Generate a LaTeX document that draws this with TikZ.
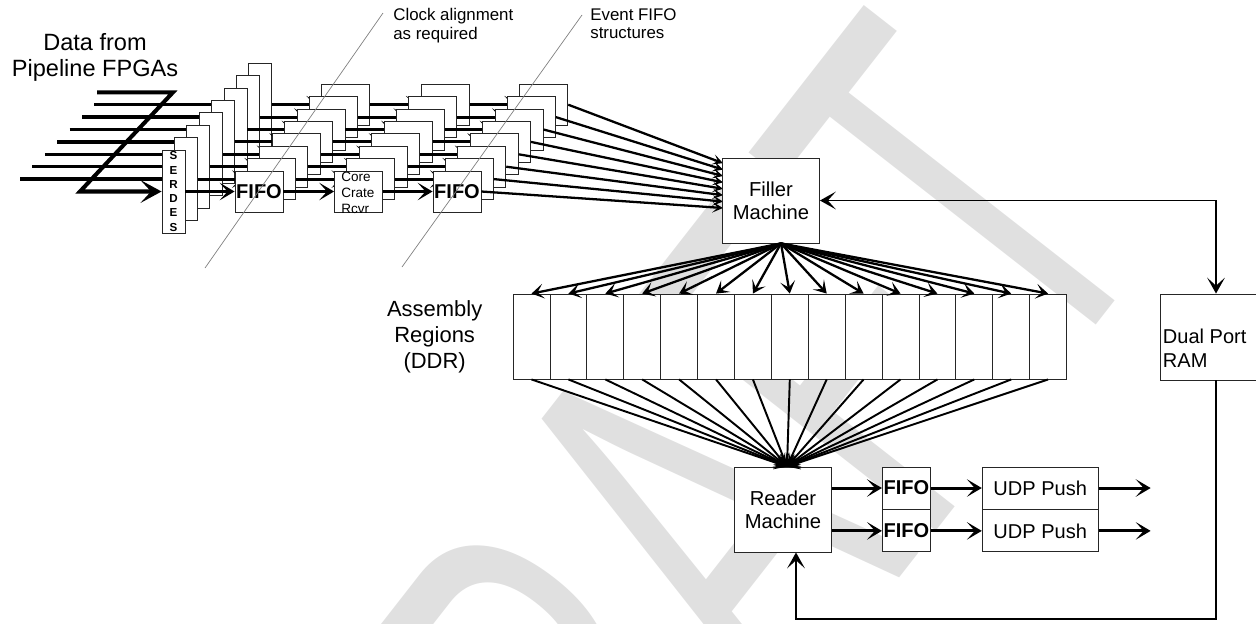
\documentclass[tikz,border=0pt]{standalone}
\usepackage{fontspec}
\setmainfont{Liberation Sans}
\usepackage{tikz}
\usetikzlibrary{positioning,arrows.meta}

\begin{document}
\begin{tikzpicture}[x=0.02cm, y=-0.02cm,
  box/.style={draw=black!85, line width=0.5pt, fill=white, inner sep=0.5pt, align=center},
  serbox/.style={box, minimum width=0.46cm, minimum height=1.66cm},
  stackbox/.style={box, minimum width=0.96cm, minimum height=0.82cm},
  asmbox/.style={box, minimum width=0.738cm, minimum height=1.70cm},
  machine/.style={box, minimum width=1.94cm, minimum height=1.70cm, font=\fontsize{11.5}{13.3}\selectfont},
  fifobox/.style={box, minimum width=0.96cm, minimum height=0.84cm, font=\bfseries\fontsize{11.4}{13}\selectfont},
  udpbox/.style={box, minimum width=2.32cm, minimum height=0.84cm, font=\fontsize{11.4}{13}\selectfont},
  lbl/.style={inner sep=0pt, align=center},
  bus/.style={line width=1.9pt},
  bigbus/.style={-{Stealth[length=12pt, width=13pt, inset=6pt]}, line width=2.3pt},
  arr/.style={-{Stealth[length=8.5pt, width=10pt, inset=4.5pt]}, line width=1.7pt},
  finarr/.style={-{Stealth[length=6pt, width=6pt, inset=3pt]}, line width=1.3pt},
  fan/.style={-{Stealth[length=7pt, width=8.5pt, inset=3.5pt]}, line width=1.3pt},
  fanin/.style={-{Stealth[length=7pt, width=8pt, inset=3.5pt]}, line width=1.1pt},
  ramlink/.style={{Stealth[length=9pt, width=10pt, inset=4.5pt]}-{Stealth[length=9pt, width=10pt, inset=4.5pt]}, line width=1.1pt},
  backline/.style={-{Stealth[length=9pt, width=10pt, inset=4.5pt]}, line width=1.1pt},
  leader/.style={draw=black!50, line width=0.4pt},
  wmark/.style={text=black!12, inner sep=0pt, font=\fontsize{314}{314}\selectfont}
]
  \useasboundingbox (0,0) rectangle (1256,623);

  \begin{scope}
    \clip (0,0) rectangle (1256,623);
    \node[wmark, anchor=base west, rotate=52, xscale=0.6] (draft) at (489,1103) {DRAFT};
  \end{scope}

  \node[lbl, font=\fontsize{13.4}{14.8}\selectfont] (datafrom) at (95,57) {Data from\\Pipeline FPGAs};

  \foreach \k in {7,6,...,0} {
    \pgfmathsetmacro{\off}{12.4*\k}
    \node[serbox] (ser\k) at (173.5+\off, 191.5-\off) {};
    \node[stackbox] (fa\k) at (259+\off, 191.5-\off) {};
    \node[stackbox] (cc\k) at (358.5+\off, 191.5-\off) {};
    \node[stackbox] (fb\k) at (457+\off, 191.5-\off) {};
    \ifnum\k>0
      \coordinate (in\k) at (7.6+\off, 191.5-\off);
      \draw[bus] (in\k) -- (ser\k.west);
    \fi
    \draw[arr] (ser\k.east) -- (fa\k.west);
    \draw[arr] (fa\k.east) -- (cc\k.west);
    \draw[arr] (cc\k.east) -- (fb\k.west);
    \coordinate (fin\k) at (723, 208-6.4*\k);
    \draw[finarr] (fb\k.east) -- (fin\k);
  }
  \node[lbl, font=\bfseries\fontsize{6.6}{8.1}\selectfont] (sertxt) at (ser0) {S\\E\\R\\D\\E\\S};
  \node[lbl, font=\bfseries\fontsize{11.4}{13}\selectfont] (fatxt) at (fa0) {FIFO};
  \node[lbl, anchor=north west, align=left, font=\fontsize{7.7}{9.1}\selectfont] (cctxt) at (341,172) {Core\\Crate\\Rcvr};
  \node[lbl, font=\bfseries\fontsize{11.4}{13}\selectfont] (fbtxt) at (fb0) {FIFO};

  \coordinate (ztop) at (97,92.3);
  \coordinate (zbend) at (173,92.3);
  \coordinate (zlow) at (80,191.5);
  \draw[bigbus] (ztop) -- (zbend) -- (zlow) -- (ser0.west);

  \node[machine] (filler) at (771,200.5) {Filler\\Machine};
  \foreach \i in {0,...,14}
    \node[asmbox] (asm\i) at (531.5+36.9*\i, 336.5) {};
  \node[lbl, left=0.6cm of asm0, font=\fontsize{12.5}{14.8}\selectfont] (asmlabel) {Assembly\\Regions\\(DDR)};
  \node[machine] (reader) at (783,509.5) {Reader\\Machine};
  \node[fifobox, anchor=north west] (fifoa) at ([xshift=1cm]reader.north east) {FIFO};
  \node[fifobox, below=0cm of fifoa] (fifob) {FIFO};
  \node[udpbox, right=1.02cm of fifoa] (udpa) {UDP Push};
  \node[udpbox, below=0cm of udpa] (udpb) {UDP Push};
  \node[box, minimum width=2.24cm, minimum height=1.72cm] (ram) at (1216,337) {};
  \node[lbl, anchor=west, align=left, font=\fontsize{11.4}{13.7}\selectfont] (ramtxt) at ([xshift=0.06cm, yshift=-0.22cm]ram.west) {Dual Port\\RAM};

  \coordinate (fout) at ([xshift=0.2cm]filler.south);
  \foreach \i in {0,...,14}
    \draw[fan] (fout) -- (asm\i.north);
  \coordinate (rin) at ([xshift=0.08cm]reader.north);
  \foreach \i in {0,...,14}
    \draw[fanin] (asm\i.south) -- (rin);

  \draw[ramlink] (filler.east) -| (ram.north);
  \coordinate (ramloop) at (796,619);
  \draw[backline] (ram.south) |- (ramloop) -- (ramloop |- reader.south);

  \draw[arr] (reader.east |- fifoa.west) -- (fifoa.west);
  \draw[arr] (reader.east |- fifob.west) -- (fifob.west);
  \draw[arr] (fifoa.east) -- (udpa.west);
  \draw[arr] (fifob.east) -- (udpb.west);
  \coordinate (outa) at ([xshift=1.04cm]udpa.east);
  \coordinate (outb) at ([xshift=1.04cm]udpb.east);
  \draw[arr] (udpa.east) -- (outa);
  \draw[arr] (udpb.east) -- (outb);

  \node[lbl, anchor=north west, align=left, font=\fontsize{9.6}{10.6}\selectfont] (clockalign) at (393,8) {Clock alignment\\as required};
  \node[lbl, anchor=north west, align=left, font=\fontsize{9.6}{10.6}\selectfont] (eventfifo) at (590,8) {Event FIFO\\structures};
  \coordinate (clktop) at (383,13);
  \coordinate (clkend) at (205,268);
  \coordinate (evttop) at (582,15);
  \coordinate (evtend) at (402,267);
  \draw[leader] (clktop) -- (clkend);
  \draw[leader] (evttop) -- (evtend);
\end{tikzpicture}
\end{document}
